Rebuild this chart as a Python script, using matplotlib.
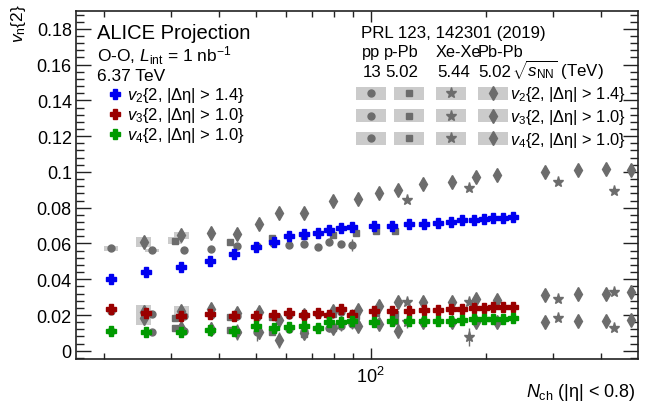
import matplotlib
matplotlib.use('Agg')
import matplotlib.pyplot as plt
from matplotlib.ticker import FixedLocator, MultipleLocator, FuncFormatter, NullFormatter
from matplotlib.patches import Rectangle
from matplotlib.lines import Line2D

plt.rcParams['font.family'] = ['Liberation Sans', 'DejaVu Sans']
plt.rcParams['mathtext.fontset'] = 'custom'
plt.rcParams['mathtext.rm'] = 'Liberation Sans'
plt.rcParams['mathtext.it'] = 'Liberation Sans:italic'
plt.rcParams['mathtext.bf'] = 'Liberation Sans:bold'

# O-O projection, v_n{2} vs N_ch
oo_nch = [20.9, 25.8, 31.9, 37.9, 43.9, 50.1, 55.8, 61.2, 67.0, 72.6, 77.9, 83.5, 89.3,
          102, 113.9, 126, 137.9, 150.3, 162, 173.7, 186.4, 198, 209.4, 221.6, 235.4]
oo_v2 = [0.0404, 0.0443, 0.0469, 0.0503, 0.0540, 0.0581, 0.0611, 0.0640, 0.0654, 0.0661, 0.0674, 0.0684, 0.0693,
         0.0695, 0.0700, 0.0710, 0.0710, 0.0717, 0.0720, 0.0730, 0.0734, 0.0737, 0.0741, 0.0745, 0.0749]
oo_v3 = [0.0233, 0.0209, 0.0196, 0.0205, 0.0196, 0.0196, 0.0198, 0.0210, 0.0199, 0.0212, 0.0201, 0.0231, 0.0201,
         0.0223, 0.0223, 0.0223, 0.0227, 0.0227, 0.0233, 0.0233, 0.0238, 0.0238, 0.0242, 0.0246, 0.0246]
oo_v4 = [0.0112, 0.0106, 0.0106, 0.0116, 0.0112, 0.0140, 0.0125, 0.0131, 0.0136, 0.0125, 0.0159, 0.0162, 0.0164,
         0.0162, 0.0164, 0.0168, 0.0168, 0.0168, 0.0168, 0.0172, 0.0175, 0.0175, 0.0179, 0.0179, 0.0183]

# PRL 123, 142301 (2019): pp 13 TeV
pp_nch = [20.9, 26.7, 32.5, 38.2, 44.6, 50.3, 55.4, 61.2, 67.0, 72.6, 77.9, 83.5, 89.3]
pp_v2 = [0.0572, 0.0563, 0.0564, 0.0568, 0.0587, 0.0585, 0.0600, 0.0594, 0.0596, 0.0578, 0.0606, 0.0596, 0.0591]
pp_v2_err = [0.0005, 0.0005, 0.0005, 0.0006, 0.0007, 0.0008, 0.0009, 0.001, 0.001, 0.0012, 0.0014, 0.0018, 0.0035]
pp_v2_sys = [0.0015, 0.0008]
pp_v3 = [0.0225, 0.0205, 0.0196, 0.0200, 0.0195, 0.0190, 0.0192, 0.0200, 0.0195, 0.0205, 0.0200, 0.0215, 0.0205]
pp_v3_err = [0.001, 0.001, 0.001, 0.001, 0.0015, 0.0015, 0.002, 0.002, 0.002, 0.002, 0.0025, 0.0025, 0.003]
pp_v4 = [0.0110, 0.0103, 0.0108, 0.0110, 0.0106, 0.0104, 0.0115, 0.0120, 0.0110, 0.0125, 0.0130, 0.0140, 0.0150]
pp_v4_err = [0.001, 0.001, 0.0015, 0.0015, 0.0045, 0.005, 0.002, 0.002, 0.002, 0.0025, 0.0025, 0.003, 0.003]

# p-Pb 5.02 TeV
ppb_nch = [30.7, 42.8, 55.1, 67.0, 79.8, 91.5, 103.2, 115.8]
ppb_v2 = [0.0615, 0.0611, 0.0628, 0.0640, 0.0648, 0.0661, 0.0670, 0.0670]
ppb_v2_err = [0.0005, 0.0005, 0.0005, 0.0006, 0.0006, 0.0007, 0.0008, 0.001]
ppb_v2_sys = [0.002]
ppb_v3 = [0.0185, 0.0188, 0.0190, 0.0200, 0.0205, 0.0196, 0.0210, 0.0205]
ppb_v3_err = [0.001, 0.001, 0.001, 0.001, 0.001, 0.0015, 0.0015, 0.002]
ppb_v4 = [0.0128, 0.0117, 0.0104, 0.0093, 0.0125, 0.0149, 0.0160, 0.0165]
ppb_v4_err = [0.001, 0.001, 0.0015, 0.0015, 0.0015, 0.002, 0.002, 0.002]

# Xe-Xe 5.44 TeV
xexe_nch = [124.2, 181.2, 308.8, 434.3]
xexe_v2 = [0.0844, 0.0913, 0.0941, 0.0891]
xexe_v2_err = [0.001, 0.001, 0.001, 0.001]
xexe_v3 = [0.0274, 0.0274, 0.0289, 0.0330]
xexe_v3_err = [0.0015, 0.0015, 0.001, 0.001]
xexe_v4 = [0.0160, 0.0075, 0.0181, 0.0125]
xexe_v4_err = [0.003, 0.005, 0.001, 0.001]

# Pb-Pb 5.02 TeV
pbpb_nch = [25.4, 31.9, 38.2, 44.6, 51.0, 57.4, 67.0, 79.8, 92.5, 105.3, 118.1, 137.3, 163, 188.7, 214.5,
            285.9, 348.3, 413, 480]
pbpb_v2 = [0.0609, 0.0646, 0.0661, 0.0652, 0.0708, 0.0769, 0.0773, 0.0838, 0.0847, 0.0885, 0.0900, 0.0931,
           0.0944, 0.0969, 0.0982, 0.1002, 0.1011, 0.1019, 0.1011]
pbpb_v2_err = [0.001, 0.001, 0.001, 0.001, 0.001, 0.001, 0.001, 0.001, 0.001, 0.001, 0.001, 0.001,
               0.0005, 0.0005, 0.0005, 0.0005, 0.0005, 0.0005, 0.0005]
pbpb_v2_sys = [0.0028, 0.002]
pbpb_v3 = [0.0215, 0.0223, 0.0233, 0.0210, 0.0215, 0.0170, 0.0200, 0.0223, 0.0230, 0.0251, 0.0270, 0.0274,
           0.0274, 0.0289, 0.0283, 0.0311, 0.0315, 0.0317, 0.0326]
pbpb_v3_err = [0.004, 0.003, 0.003, 0.003, 0.003, 0.003, 0.002, 0.002, 0.003, 0.002, 0.002, 0.001,
               0.001, 0.001, 0.001, 0.0005, 0.0005, 0.0005, 0.0005]
pbpb_v3_sys = [0.004, 0.0025]
pbpb_v4 = [0.0185, 0.0125, 0.0120, 0.0106, 0.0104, 0.0061, 0.0100, 0.0130, 0.0140, 0.0149, 0.0112, 0.0159,
           0.0159, 0.0159, 0.0159, 0.0162, 0.0168, 0.0168, 0.0172]
pbpb_v4_err = [0.004, 0.004, 0.004, 0.004, 0.004, 0.0045, 0.003, 0.002, 0.002, 0.002, 0.002, 0.001,
               0.001, 0.001, 0.001, 0.0005, 0.0005, 0.0005, 0.0005]
pbpb_v4_sys = [0.004]

harmonic_labels = [r'$v_{2}${2, |Δη| > 1.4}',
                   r'$v_{3}${2, |Δη| > 1.0}',
                   r'$v_{4}${2, |Δη| > 1.0}']

GREY = '#6c6c6c'
BOX = '#cbcbcb'
OO_COLORS = ['#0000f0', '#9a0000', '#009a00']

W, H = 646, 410
fig = plt.figure(figsize=(W / 100, H / 100), dpi=100)
ax = fig.add_axes([76 / W, 1 - 360 / H, (638 - 76) / W, (360 - 12) / H])
ax.set_xscale('log')
ax.set_xlim(16.9, 501)
ax.set_ylim(-0.0046, 0.19)


def fx(x):
    return x / W


def fy(y):
    return 1 - y / H


def sys_boxes(nch, vals, sys):
    for n, v, s in zip(nch, vals, sys):
        lo, hi = n * 10 ** -0.019, n * 10 ** 0.019
        ax.add_patch(Rectangle((lo, v - s), hi - lo, 2 * s, facecolor=BOX,
                               edgecolor='none', zorder=1))


def grey(nch, vals, err, marker, ms):
    ax.errorbar(nch, vals, yerr=err, fmt=marker, ms=ms, color=GREY, mec=GREY,
                ecolor=GREY, elinewidth=1, capsize=0, zorder=2)


# systematic boxes
sys_boxes(pp_nch, pp_v2, pp_v2_sys)
sys_boxes(ppb_nch, ppb_v2, ppb_v2_sys)
sys_boxes(pbpb_nch, pbpb_v2, pbpb_v2_sys)
sys_boxes(pbpb_nch, pbpb_v3, pbpb_v3_sys)
sys_boxes(pbpb_nch, pbpb_v4, pbpb_v4_sys)

# published data
for vals, err in [(pp_v2, pp_v2_err), (pp_v3, pp_v3_err), (pp_v4, pp_v4_err)]:
    grey(pp_nch, vals, err, 'o', 5)
for vals, err in [(ppb_v2, ppb_v2_err), (ppb_v3, ppb_v3_err), (ppb_v4, ppb_v4_err)]:
    grey(ppb_nch, vals, err, 's', 4.8)
for vals, err in [(xexe_v2, xexe_v2_err), (xexe_v3, xexe_v3_err), (xexe_v4, xexe_v4_err)]:
    grey(xexe_nch, vals, err, '*', 8)
for vals, err in [(pbpb_v2, pbpb_v2_err), (pbpb_v3, pbpb_v3_err), (pbpb_v4, pbpb_v4_err)]:
    grey(pbpb_nch, vals, err, 'd', 6.8)

# O-O projection
for vals, c in zip([oo_v2, oo_v3, oo_v4], OO_COLORS):
    ax.plot(oo_nch, vals, 'P', ms=7.2, color=c, mec=c, lw=0, zorder=4)

# axes, ROOT style
ax.xaxis.set_major_locator(FixedLocator([100]))
ax.xaxis.set_major_formatter(FuncFormatter(lambda v, p: r'$10^{2}$'))
ax.xaxis.set_minor_locator(FixedLocator([20, 30, 40, 50, 60, 70, 80, 90, 200, 300, 400]))
ax.xaxis.set_minor_formatter(NullFormatter())
ax.yaxis.set_major_locator(MultipleLocator(0.02))
ax.yaxis.set_minor_locator(MultipleLocator(0.004))
ax.yaxis.set_major_formatter(FuncFormatter(lambda v, p: f'{v:g}'))
ax.tick_params(which='both', direction='in', top=True, right=True, labelsize=13, width=1, color='#222222')
ax.tick_params(axis='y', which='major', length=11, pad=3)
ax.tick_params(axis='y', which='minor', length=5.5)
ax.tick_params(axis='x', which='major', length=8, pad=5)
ax.tick_params(axis='x', which='minor', length=4.5)
for s in ax.spines.values():
    s.set_linewidth(1.2)
    s.set_color('#222222')

fig.text(fx(19), fy(4), r'$v_{\mathrm{n}}${2}', rotation=90, ha='center', va='top', fontsize=12.5)
fig.text(fx(636), fy(393), r'$N_{\mathrm{ch}}$ (|η| < 0.8)', ha='right', va='center', fontsize=13)

# O-O legend
fig.text(fx(97), fy(39), 'ALICE Projection', fontsize=14.5, va='baseline')
fig.text(fx(97), fy(62), r'O-O, $L_{\mathrm{int}}$ = 1 nb$^{-1}$', fontsize=12.5, va='baseline')
fig.text(fx(97), fy(81), '6.37 TeV', fontsize=12.5, va='baseline')
for i, (lab, c) in enumerate(zip(harmonic_labels, OO_COLORS)):
    yc = 95 + 20 * i
    fig.add_artist(Line2D([fx(115)], [fy(yc)], marker='P', ms=7.2, color=c, mec=c, lw=0))
    fig.text(fx(127), fy(yc + 5), lab, fontsize=12, va='baseline')

# published data legend
fig.text(fx(361), fy(38), 'PRL 123, 142301 (2019)', fontsize=12.2, va='baseline')
for x, s in [(362, 'pp'), (384, 'p-Pb'), (436, 'Xe-Xe'), (478, 'Pb-Pb')]:
    fig.text(fx(x), fy(57), s, fontsize=11.8, va='baseline')
for x, s in [(363, '13'), (385, '5.02'), (437, '5.44'), (478, '5.02')]:
    fig.text(fx(x), fy(77), s, fontsize=12.2, va='baseline')
fig.text(fx(512), fy(77), r'$\sqrt{s_{\mathrm{NN}}}$ (TeV)', fontsize=12.2, va='baseline')
for i, lab in enumerate(harmonic_labels):
    yc = 94 + 22.5 * i
    for xc, m, ms in [(371, 'o', 5), (409, 's', 4.8), (451, '*', 8), (492.5, 'd', 6.8)]:
        fig.add_artist(Rectangle((fx(xc - 15), fy(yc + 6.5)), 30 / W, 13 / H,
                                 transform=fig.transFigure, facecolor=BOX, edgecolor='none'))
        fig.add_artist(Line2D([fx(xc)], [fy(yc)], marker=m, ms=ms, color=GREY, mec=GREY, lw=0))
    fig.text(fx(510), fy(yc + 5.5), lab, fontsize=11.8, va='baseline')

fig.savefig('out.png', dpi=100)
